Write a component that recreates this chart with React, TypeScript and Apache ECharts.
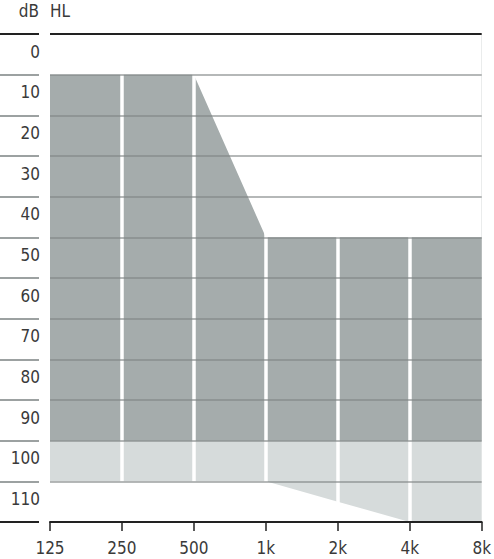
import React, { useEffect, useRef } from "react";
import * as echarts from "echarts";

const frequencies = ["125", "250", "500", "1k", "2k", "4k", "8k"];
const xPositions = [0, 1, 2, 3, 4, 5, 6];
const darkTop = [10, 10, 10, 50, 50, 50, 50];
const darkBottom = [100, 100, 100, 100, 100, 100, 100];
const lightBottom = [110, 110, 110, 110, 115, 120, 120];
const yTicks = [0, 10, 20, 30, 40, 50, 60, 70, 80, 90, 100, 110, 120];

const FONT = "DejaVu Sans Condensed";
const DARK = "#a5acac";
const LIGHT = "#d6dbdb";
const GRID_GRAY = "rgba(128,134,134,0.78)";
const BLACK = "#222";
const TEXT = "#3a3a3a";

export default function App() {
  const ref = useRef<HTMLDivElement>(null);
  useEffect(() => {
    if (!ref.current) return;
    const chart = echarts.init(ref.current, undefined, { renderer: "svg" });
    const toData = (arr: number[]) => xPositions.map((x, i) => [x, arr[i]]);
    const n = yTicks.length;
    const grayColors = yTicks.map((_, i) => (i === 0 || i === n - 1 ? "rgba(0,0,0,0)" : GRID_GRAY));
    const blackTop = yTicks.map((_, i) => (i === 0 ? BLACK : "rgba(0,0,0,0)"));
    const leftColors = yTicks.map((_, i) => (i === 0 || i === n - 1 ? BLACK : GRID_GRAY));

    const areaSeries = (name: string, arr: number[], color: string) => ({
      type: "line",
      name,
      xAxisIndex: 0,
      yAxisIndex: 0,
      data: toData(arr),
      showSymbol: false,
      symbol: "none",
      lineStyle: { width: 0, opacity: 0 },
      areaStyle: { color, opacity: 1, origin: "start" },
      z: 2,
      silent: true,
    });

    chart.setOption({
      animation: false,
      backgroundColor: "#fff",
      textStyle: { fontFamily: FONT },
      grid: [
        { left: 50, right: 12, top: 34, height: 488 },
        { left: 0, width: 39, top: 34, height: 488 },
      ],
      xAxis: [
        {
          type: "value",
          gridIndex: 0,
          position: "bottom",
          min: 0,
          max: 6,
          interval: 1,
          z: 10,
          axisLine: { show: true, onZero: false, lineStyle: { color: BLACK, width: 2 } },
          axisTick: { show: true, length: 9, lineStyle: { color: BLACK, width: 1.5 } },
          axisLabel: {
            margin: 17,
            fontSize: 17,
            color: TEXT,
            fontFamily: FONT,
            formatter: (v: number) => frequencies[Math.round(v)] ?? "",
          },
          splitLine: { show: false },
        },
        {
          type: "value",
          gridIndex: 0,
          position: "top",
          min: 0,
          max: 6,
          interval: 1,
          z: 5,
          axisLine: { show: false, onZero: false },
          axisTick: { show: false },
          axisLabel: { show: false },
          splitLine: {
            show: true,
            showMinLine: false,
            showMaxLine: false,
            lineStyle: { color: "#ffffff", width: 3.5 },
          },
        },
        {
          type: "value",
          gridIndex: 1,
          min: 0,
          max: 1,
          show: false,
        },
      ],
      yAxis: [
        {
          type: "value",
          gridIndex: 0,
          position: "left",
          inverse: true,
          min: 0,
          max: 120,
          interval: 10,
          z: 6,
          axisLine: { show: false, onZero: false },
          axisTick: { show: false },
          axisLabel: {
            margin: 10,
            fontSize: 17,
            color: TEXT,
            fontFamily: FONT,
            verticalAlign: "top",
            padding: [9, 0, 0, 0],
            formatter: (v: number) => (v >= 120 ? "" : String(v)),
          },
          splitLine: { show: true, lineStyle: { color: grayColors, width: 1.5 } },
        },
        {
          type: "value",
          gridIndex: 0,
          position: "right",
          inverse: true,
          min: 0,
          max: 120,
          interval: 10,
          z: 7,
          axisLine: { show: false, onZero: false },
          axisTick: { show: false },
          axisLabel: { show: false },
          splitLine: { show: true, lineStyle: { color: blackTop, width: 2 } },
        },
        {
          type: "value",
          gridIndex: 1,
          inverse: true,
          min: 0,
          max: 120,
          interval: 10,
          axisLine: { show: false, onZero: false },
          axisTick: { show: false },
          axisLabel: { show: false },
          splitLine: { show: true, lineStyle: { color: leftColors, width: 1.8 } },
        },
      ],
      graphic: [
        {
          type: "text",
          x: 39,
          y: 11,
          style: {
            text: "dB",
            font: `17px "${FONT}"`,
            fill: TEXT,
            align: "right",
            verticalAlign: "middle",
          },
        },
        {
          type: "text",
          x: 50,
          y: 11,
          style: {
            text: "HL",
            font: `17px "${FONT}"`,
            fill: TEXT,
            align: "left",
            verticalAlign: "middle",
          },
        },
      ],
      series: [
        areaSeries("light", lightBottom, LIGHT),
        areaSeries("dark", darkBottom, DARK),
        areaSeries("clear", darkTop, "#ffffff"),
      ],
    });
    return () => chart.dispose();
  }, []);
  return <div ref={ref} style={{ width: 494, height: 559, position: "absolute", left: 0, top: 0 }} />;
}
